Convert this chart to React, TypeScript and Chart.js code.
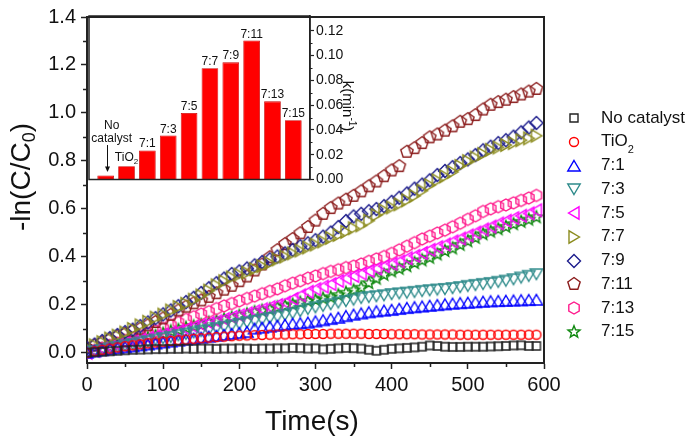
import React, { useEffect, useRef } from "react";
import { Chart, registerables } from "chart.js";
Chart.register(...registerables);

const FONT = '"Liberation Sans", Arial, Helvetica, sans-serif';
const AXIS = "#222222";
const TEXT = "#111111";

// ---------- main plot data ----------
const times = [
  0, 10, 20, 30, 40, 50, 60, 70, 80, 90,
  100, 110, 120, 130, 140, 150, 160, 170, 180, 190,
  200, 210, 220, 230, 240, 250, 260, 270, 280, 290,
  300, 310, 320, 330, 340, 350, 360, 370, 380, 390,
  400, 410, 420, 430, 440, 450, 460, 470, 480, 490,
  500, 510, 520, 530, 540, 550, 560, 570, 580, 590,
];

const noCatalyst = [
  0.000, 0.002, 0.004, 0.006, 0.008, 0.010, 0.012, 0.013, 0.014, 0.015,
  0.015, 0.016, 0.016, 0.017, 0.016, 0.017, 0.017, 0.016, 0.017, 0.017,
  0.018, 0.017, 0.016, 0.017, 0.017, 0.018, 0.018, 0.020, 0.019, 0.017,
  0.018, 0.014, 0.016, 0.018, 0.020, 0.019, 0.017, 0.012, 0.008, 0.012,
  0.016, 0.018, 0.020, 0.022, 0.025, 0.030, 0.028, 0.025, 0.024, 0.024,
  0.025, 0.025, 0.025, 0.026, 0.027, 0.028, 0.030, 0.031, 0.028, 0.028,
];
const tio2 = [
  0.000, 0.006, 0.012, 0.017, 0.022, 0.027, 0.031, 0.035, 0.039, 0.043,
  0.046, 0.049, 0.052, 0.055, 0.058, 0.060, 0.063, 0.065, 0.067, 0.069,
  0.071, 0.072, 0.073, 0.074, 0.075, 0.076, 0.076, 0.077, 0.077, 0.078,
  0.078, 0.078, 0.079, 0.079, 0.079, 0.079, 0.079, 0.078, 0.078, 0.078,
  0.077, 0.077, 0.077, 0.077, 0.076, 0.076, 0.076, 0.076, 0.076, 0.075,
  0.075, 0.075, 0.075, 0.075, 0.075, 0.075, 0.075, 0.075, 0.075, 0.075,
];
const r7_1 = [
  0.000, 0.005, 0.010, 0.014, 0.018, 0.022, 0.026, 0.030, 0.034, 0.038,
  0.042, 0.046, 0.050, 0.054, 0.058, 0.062, 0.066, 0.070, 0.074, 0.078,
  0.082, 0.086, 0.100, 0.104, 0.108, 0.112, 0.116, 0.120, 0.122, 0.125,
  0.130, 0.135, 0.140, 0.145, 0.152, 0.158, 0.163, 0.168, 0.172, 0.175,
  0.178, 0.182, 0.186, 0.189, 0.192, 0.195, 0.198, 0.201, 0.204, 0.206,
  0.208, 0.210, 0.212, 0.214, 0.215, 0.216, 0.217, 0.218, 0.219, 0.220,
];
const r7_3 = [
  0.000, 0.006, 0.011, 0.018, 0.024, 0.031, 0.036, 0.043, 0.048, 0.055,
  0.061, 0.066, 0.073, 0.079, 0.085, 0.091, 0.096, 0.103, 0.109, 0.114,
  0.121, 0.127, 0.133, 0.139, 0.145, 0.151, 0.158, 0.165, 0.174, 0.183,
  0.190, 0.196, 0.203, 0.210, 0.216, 0.222, 0.229, 0.233, 0.236, 0.240,
  0.245, 0.248, 0.251, 0.254, 0.258, 0.261, 0.264, 0.266, 0.270, 0.274,
  0.279, 0.283, 0.287, 0.291, 0.296, 0.301, 0.307, 0.314, 0.321, 0.328,
];
const r7_5 = [
  0.000, 0.008, 0.016, 0.024, 0.031, 0.039, 0.046, 0.054, 0.061, 0.069,
  0.076, 0.084, 0.091, 0.099, 0.108, 0.116, 0.124, 0.131, 0.140, 0.149,
  0.156, 0.164, 0.173, 0.181, 0.190, 0.199, 0.209, 0.224, 0.239, 0.254,
  0.265, 0.276, 0.286, 0.299, 0.310, 0.320, 0.330, 0.341, 0.351, 0.361,
  0.371, 0.381, 0.394, 0.404, 0.416, 0.429, 0.440, 0.451, 0.464, 0.476,
  0.489, 0.501, 0.514, 0.526, 0.539, 0.550, 0.561, 0.571, 0.581, 0.594,
];
const r7_7 = [
  0.018, 0.031, 0.044, 0.059, 0.071, 0.084, 0.099, 0.114, 0.129, 0.146,
  0.159, 0.176, 0.191, 0.204, 0.221, 0.239, 0.259, 0.281, 0.298, 0.314,
  0.326, 0.334, 0.349, 0.361, 0.374, 0.389, 0.401, 0.414, 0.426, 0.439,
  0.451, 0.464, 0.479, 0.491, 0.504, 0.519, 0.531, 0.551, 0.574, 0.594,
  0.606, 0.619, 0.636, 0.654, 0.676, 0.699, 0.719, 0.736, 0.754, 0.779,
  0.799, 0.814, 0.829, 0.846, 0.856, 0.866, 0.874, 0.886, 0.894, 0.905,
];
const r7_9 = [
  0.020, 0.034, 0.049, 0.061, 0.074, 0.086, 0.096, 0.111, 0.126, 0.144,
  0.160, 0.176, 0.194, 0.211, 0.229, 0.249, 0.269, 0.290, 0.309, 0.328,
  0.339, 0.351, 0.364, 0.378, 0.389, 0.401, 0.414, 0.429, 0.444, 0.456,
  0.469, 0.484, 0.501, 0.524, 0.549, 0.568, 0.579, 0.590, 0.599, 0.611,
  0.629, 0.646, 0.664, 0.684, 0.701, 0.719, 0.741, 0.758, 0.774, 0.791,
  0.806, 0.824, 0.844, 0.859, 0.874, 0.886, 0.901, 0.919, 0.939, 0.958,
];
const r7_11 = [
  0.020, 0.030, 0.042, 0.055, 0.068, 0.078, 0.090, 0.100, 0.114, 0.128,
  0.143, 0.158, 0.176, 0.192, 0.206, 0.218, 0.233, 0.248, 0.263, 0.279,
  0.298, 0.318, 0.343, 0.368, 0.398, 0.428, 0.453, 0.474, 0.498, 0.524,
  0.551, 0.579, 0.603, 0.622, 0.638, 0.654, 0.673, 0.694, 0.714, 0.736,
  0.760, 0.778, 0.838, 0.853, 0.874, 0.898, 0.910, 0.926, 0.944, 0.963,
  0.974, 0.991, 1.014, 1.034, 1.045, 1.055, 1.066, 1.077, 1.089, 1.100,
];
const r7_13 = [
  0.000, 0.009, 0.019, 0.030, 0.040, 0.051, 0.060, 0.071, 0.081, 0.090,
  0.101, 0.114, 0.126, 0.139, 0.150, 0.161, 0.171, 0.184, 0.195, 0.205,
  0.216, 0.226, 0.236, 0.246, 0.256, 0.266, 0.279, 0.290, 0.300, 0.311,
  0.320, 0.330, 0.339, 0.346, 0.355, 0.361, 0.370, 0.381, 0.391, 0.401,
  0.414, 0.429, 0.444, 0.459, 0.474, 0.486, 0.499, 0.511, 0.525, 0.540,
  0.556, 0.571, 0.589, 0.600, 0.609, 0.616, 0.625, 0.635, 0.645, 0.656,
];
const r7_15 = [
  0.000, 0.006, 0.014, 0.024, 0.031, 0.040, 0.046, 0.055, 0.061, 0.070,
  0.079, 0.089, 0.095, 0.104, 0.110, 0.116, 0.125, 0.131, 0.139, 0.146,
  0.154, 0.160, 0.169, 0.175, 0.181, 0.189, 0.195, 0.201, 0.209, 0.215,
  0.220, 0.226, 0.231, 0.240, 0.250, 0.260, 0.271, 0.290, 0.309, 0.325,
  0.339, 0.350, 0.361, 0.374, 0.385, 0.396, 0.410, 0.424, 0.435, 0.450,
  0.465, 0.479, 0.494, 0.505, 0.515, 0.525, 0.536, 0.546, 0.555, 0.565,
];

const seriesNames = ["No catalyst", "TiO2", "7:1", "7:3", "7:5", "7:7", "7:9", "7:11", "7:13", "7:15"];
const seriesValues = [noCatalyst, tio2, r7_1, r7_3, r7_5, r7_7, r7_9, r7_11, r7_13, r7_15];
const seriesColors = ["#222222", "#FF0000", "#0000FF", "#2E8B8B", "#FF00FF", "#8C8C1E", "#1C1C8C", "#8B1C1C", "#FF1A8C", "#138A13"];
const seriesShapes = ["square", "circle", "up", "down", "left", "right", "diamond", "pentagon", "hexagon", "star"];

const xMinorTicks = [50, 150, 250, 350, 450, 550];
const yMinorTicks = [0.1, 0.3, 0.5, 0.7, 0.9, 1.1, 1.3];

// ---------- inset data ----------
const insetCategories = ["No catalyst", "TiO2", "7:1", "7:3", "7:5", "7:7", "7:9", "7:11", "7:13", "7:15"];
const kValues = [0.0032, 0.0107, 0.0235, 0.0355, 0.0537, 0.0898, 0.0946, 0.1122, 0.0631, 0.0478];
const kMinorTicks = [0.01, 0.03, 0.05, 0.07, 0.09, 0.11];

type Part = { t: string; size: number; dy?: number };

function drawRich(ctx: CanvasRenderingContext2D, parts: Part[], x: number, y: number, align: "left" | "center") {
  let w = 0;
  for (const p of parts) {
    ctx.font = `${p.size}px ${FONT}`;
    w += ctx.measureText(p.t).width;
  }
  let cx = align === "center" ? x - w / 2 : x;
  ctx.textAlign = "left";
  for (const p of parts) {
    ctx.font = `${p.size}px ${FONT}`;
    ctx.fillText(p.t, cx, y + (p.dy || 0));
    cx += ctx.measureText(p.t).width;
  }
}

function makeMarker(shape: string, color: string): HTMLCanvasElement {
  const S = 18;
  const c = document.createElement("canvas");
  c.width = S;
  c.height = S;
  const g = c.getContext("2d")!;
  g.translate(S / 2, S / 2);
  g.strokeStyle = color;
  g.lineWidth = 1.4;
  g.lineJoin = "miter";
  g.beginPath();
  const poly = (pts: number[][]) => {
    g.moveTo(pts[0][0], pts[0][1]);
    for (let k = 1; k < pts.length; k++) g.lineTo(pts[k][0], pts[k][1]);
    g.closePath();
  };
  const regular = (n: number, r: number) => {
    const pts: number[][] = [];
    for (let k = 0; k < n; k++) {
      const a = -Math.PI / 2 + (k * 2 * Math.PI) / n;
      pts.push([r * Math.cos(a), r * Math.sin(a)]);
    }
    poly(pts);
  };
  const star = (ro: number, ri: number) => {
    const pts: number[][] = [];
    for (let k = 0; k < 10; k++) {
      const a = -Math.PI / 2 + (k * Math.PI) / 5;
      const r = k % 2 === 0 ? ro : ri;
      pts.push([r * Math.cos(a), r * Math.sin(a)]);
    }
    poly(pts);
  };
  switch (shape) {
    case "square": g.rect(-4, -4, 8, 8); break;
    case "circle": g.arc(0, 0, 4.5, 0, Math.PI * 2); break;
    case "up": poly([[0, -5.5], [6.2, 5], [-6.2, 5]]); break;
    case "down": poly([[0, 5.5], [6.2, -5], [-6.2, -5]]); break;
    case "left": poly([[-5.5, 0], [5, -6.2], [5, 6.2]]); break;
    case "right": poly([[5.5, 0], [-5, -6.2], [-5, 6.2]]); break;
    case "diamond": poly([[0, -6.5], [6.5, 0], [0, 6.5], [-6.5, 0]]); break;
    case "pentagon": regular(5, 6.5); break;
    case "hexagon": regular(6, 6); break;
    case "star": star(6.3, 2.7); break;
  }
  g.stroke();
  return c;
}

export default function App() {
  const mainRef = useRef<HTMLCanvasElement>(null);
  const insetRef = useRef<HTMLCanvasElement>(null);

  useEffect(() => {
    document.body.style.margin = "0";
    const markers = seriesShapes.map((s, i) => makeMarker(s, seriesColors[i]));

    const mainDecor = {
      id: "mainDecor",
      afterDraw(chart: any) {
        const { ctx, chartArea: a, scales } = chart;
        const x = scales.x;
        const y = scales.y;
        ctx.save();
        // top & right frame
        ctx.strokeStyle = AXIS;
        ctx.lineWidth = 2;
        ctx.beginPath();
        ctx.moveTo(a.left, a.top);
        ctx.lineTo(a.right, a.top);
        ctx.lineTo(a.right, a.bottom);
        ctx.stroke();
        // minor ticks
        ctx.lineWidth = 1.5;
        ctx.beginPath();
        for (const v of xMinorTicks) {
          const px = Math.round(x.getPixelForValue(v)) + 0.5;
          ctx.moveTo(px, a.bottom);
          ctx.lineTo(px, a.bottom + 4);
        }
        for (const v of yMinorTicks) {
          const py = Math.round(y.getPixelForValue(v)) + 0.5;
          ctx.moveTo(a.left, py);
          ctx.lineTo(a.left - 4, py);
        }
        ctx.stroke();
        // axis titles
        ctx.fillStyle = TEXT;
        ctx.textBaseline = "alphabetic";
        drawRich(ctx, [{ t: "Time(s)", size: 28 }], 312, 430, "center");
        ctx.save();
        ctx.translate(30, 177);
        ctx.rotate(-Math.PI / 2);
        drawRich(ctx, [{ t: "-ln(C/C", size: 28 }, { t: "0", size: 18, dy: 5 }, { t: ")", size: 28 }], 0, 0, "center");
        ctx.restore();
        // legend
        ctx.textBaseline = "middle";
        for (let i = 0; i < seriesNames.length; i++) {
          const ly = 118 + i * 23.75;
          ctx.drawImage(markers[i], 574 - 9, Math.round(ly) - 9);
          if (seriesNames[i] === "TiO2") {
            drawRich(ctx, [{ t: "TiO", size: 17 }, { t: "2", size: 11, dy: 8 }], 601, ly, "left");
          } else {
            drawRich(ctx, [{ t: seriesNames[i], size: 17 }], 601, ly, "left");
          }
        }
        ctx.restore();
      },
    };

    const main = new Chart(mainRef.current!, {
      type: "scatter",
      data: {
        datasets: seriesValues.map((vals, i) => ({
          label: seriesNames[i],
          data: times.map((t, j) => ({ x: t, y: vals[j] })),
          pointStyle: markers[i] as any,
          pointRadius: 7,
          pointHoverRadius: 7,
          showLine: false,
          borderColor: seriesColors[i],
          backgroundColor: "rgba(0,0,0,0)",
        })),
      },
      options: {
        responsive: false,
        animation: false,
        events: [],
        layout: { padding: { top: 15, right: 156, left: 0, bottom: 0 } },
        plugins: { legend: { display: false }, tooltip: { enabled: false } },
        scales: {
          x: {
            type: "linear",
            min: 0,
            max: 600,
            ticks: {
              stepSize: 100,
              font: { family: FONT, size: 20 },
              color: TEXT,
              padding: 4,
              maxRotation: 0,
              includeBounds: false,
            },
            grid: { display: true, drawOnChartArea: false, drawTicks: true, tickLength: 6, tickWidth: 1.5, tickColor: AXIS },
            border: { display: true, width: 2, color: AXIS },
            afterFit: (s: any) => { s.height = 76; },
          },
          y: {
            type: "linear",
            min: -0.043,
            max: 1.4,
            ticks: {
              stepSize: 0.2,
              font: { family: FONT, size: 20 },
              color: TEXT,
              padding: 5,
              includeBounds: false,
              callback: (v: any) => Number(v).toFixed(1),
            },
            grid: { display: true, drawOnChartArea: false, drawTicks: true, tickLength: 6, tickWidth: 1.5, tickColor: AXIS },
            border: { display: true, width: 2, color: AXIS },
            afterFit: (s: any) => { s.width = 87; },
          },
        },
      } as any,
      plugins: [mainDecor],
    });

    const insetDecor = {
      id: "insetDecor",
      afterDraw(chart: any) {
        const { ctx, chartArea: a, scales } = chart;
        const x = scales.x;
        const y = scales.y;
        ctx.save();
        ctx.strokeStyle = AXIS;
        ctx.lineWidth = 1.5;
        ctx.strokeRect(a.left, a.top, a.right - a.left, a.bottom - a.top);
        ctx.lineWidth = 1.2;
        ctx.beginPath();
        for (const v of kMinorTicks) {
          const py = Math.round(y.getPixelForValue(v)) + 0.5;
          ctx.moveTo(a.right, py);
          ctx.lineTo(a.right + 2.5, py);
        }
        ctx.stroke();
        ctx.fillStyle = TEXT;
        ctx.textBaseline = "alphabetic";
        for (let i = 0; i < insetCategories.length; i++) {
          const bx = x.getPixelForValue(i);
          const top = y.getPixelForValue(kValues[i]);
          if (insetCategories[i] === "No catalyst") {
            drawRich(ctx, [{ t: "No", size: 12 }], bx + 6, top - 47, "center");
            drawRich(ctx, [{ t: "catalyst", size: 12 }], bx + 6, top - 33.5, "center");
            const ax = Math.round(bx + 1) + 0.5;
            ctx.strokeStyle = TEXT;
            ctx.lineWidth = 1;
            ctx.beginPath();
            ctx.moveTo(ax, top - 30.5);
            ctx.lineTo(ax, top - 8);
            ctx.stroke();
            ctx.beginPath();
            ctx.moveTo(ax - 2.5, top - 9);
            ctx.lineTo(ax + 2.5, top - 9);
            ctx.lineTo(ax, top - 3.5);
            ctx.closePath();
            ctx.fill();
          } else if (insetCategories[i] === "TiO2") {
            drawRich(ctx, [{ t: "TiO", size: 12 }, { t: "2", size: 8, dy: 3 }], bx, top - 5.5, "center");
          } else {
            drawRich(ctx, [{ t: insetCategories[i], size: 12 }], bx, top - 3, "center");
          }
        }
        // axis title k(min-1)
        ctx.save();
        ctx.translate(263, 101);
        ctx.rotate(Math.PI / 2);
        drawRich(ctx, [{ t: "k(min", size: 15 }, { t: "-1", size: 10, dy: -6 }, { t: ")", size: 15 }], 0, 0, "center");
        ctx.restore();
        ctx.restore();
      },
    };

    const inset = new Chart(insetRef.current!, {
      type: "bar",
      data: {
        datasets: [
          {
            data: kValues.map((k, i) => ({ x: i, y: k })),
            backgroundColor: "#FF0000",
            borderColor: "#C80000",
            borderWidth: 0.8,
            categoryPercentage: 1,
            barPercentage: 0.8,
          } as any,
        ],
      },
      options: {
        responsive: false,
        animation: false,
        events: [],
        layout: { padding: { left: 9, top: 11, bottom: 15.5, right: 0 } },
        plugins: { legend: { display: false }, tooltip: { enabled: false } },
        scales: {
          x: { type: "linear", min: -0.8, max: 9.8, display: false, offset: false },
          y: {
            type: "linear",
            position: "right",
            min: 0,
            max: 0.132,
            ticks: {
              stepSize: 0.02,
              font: { family: FONT, size: 14 },
              color: TEXT,
              padding: 2,
              includeBounds: false,
              callback: (v: any) => Number(v).toFixed(2),
            },
            grid: { display: true, drawOnChartArea: false, drawTicks: true, tickLength: 4, tickWidth: 1.2, tickColor: AXIS },
            border: { display: true, width: 1.5, color: AXIS },
            afterFit: (s: any) => { s.width = 60; },
          },
        },
      } as any,
      plugins: [insetDecor],
    });

    return () => {
      main.destroy();
      inset.destroy();
    };
  }, []);

  return (
    <div style={{ position: "absolute", left: 0, top: 0, width: 700, height: 439, background: "#ffffff" }}>
      <canvas ref={mainRef} width={700} height={439} style={{ position: "absolute", left: 0, top: 0 }} />
      <canvas ref={insetRef} width={290} height={190} style={{ position: "absolute", left: 80, top: 5 }} />
    </div>
  );
}
